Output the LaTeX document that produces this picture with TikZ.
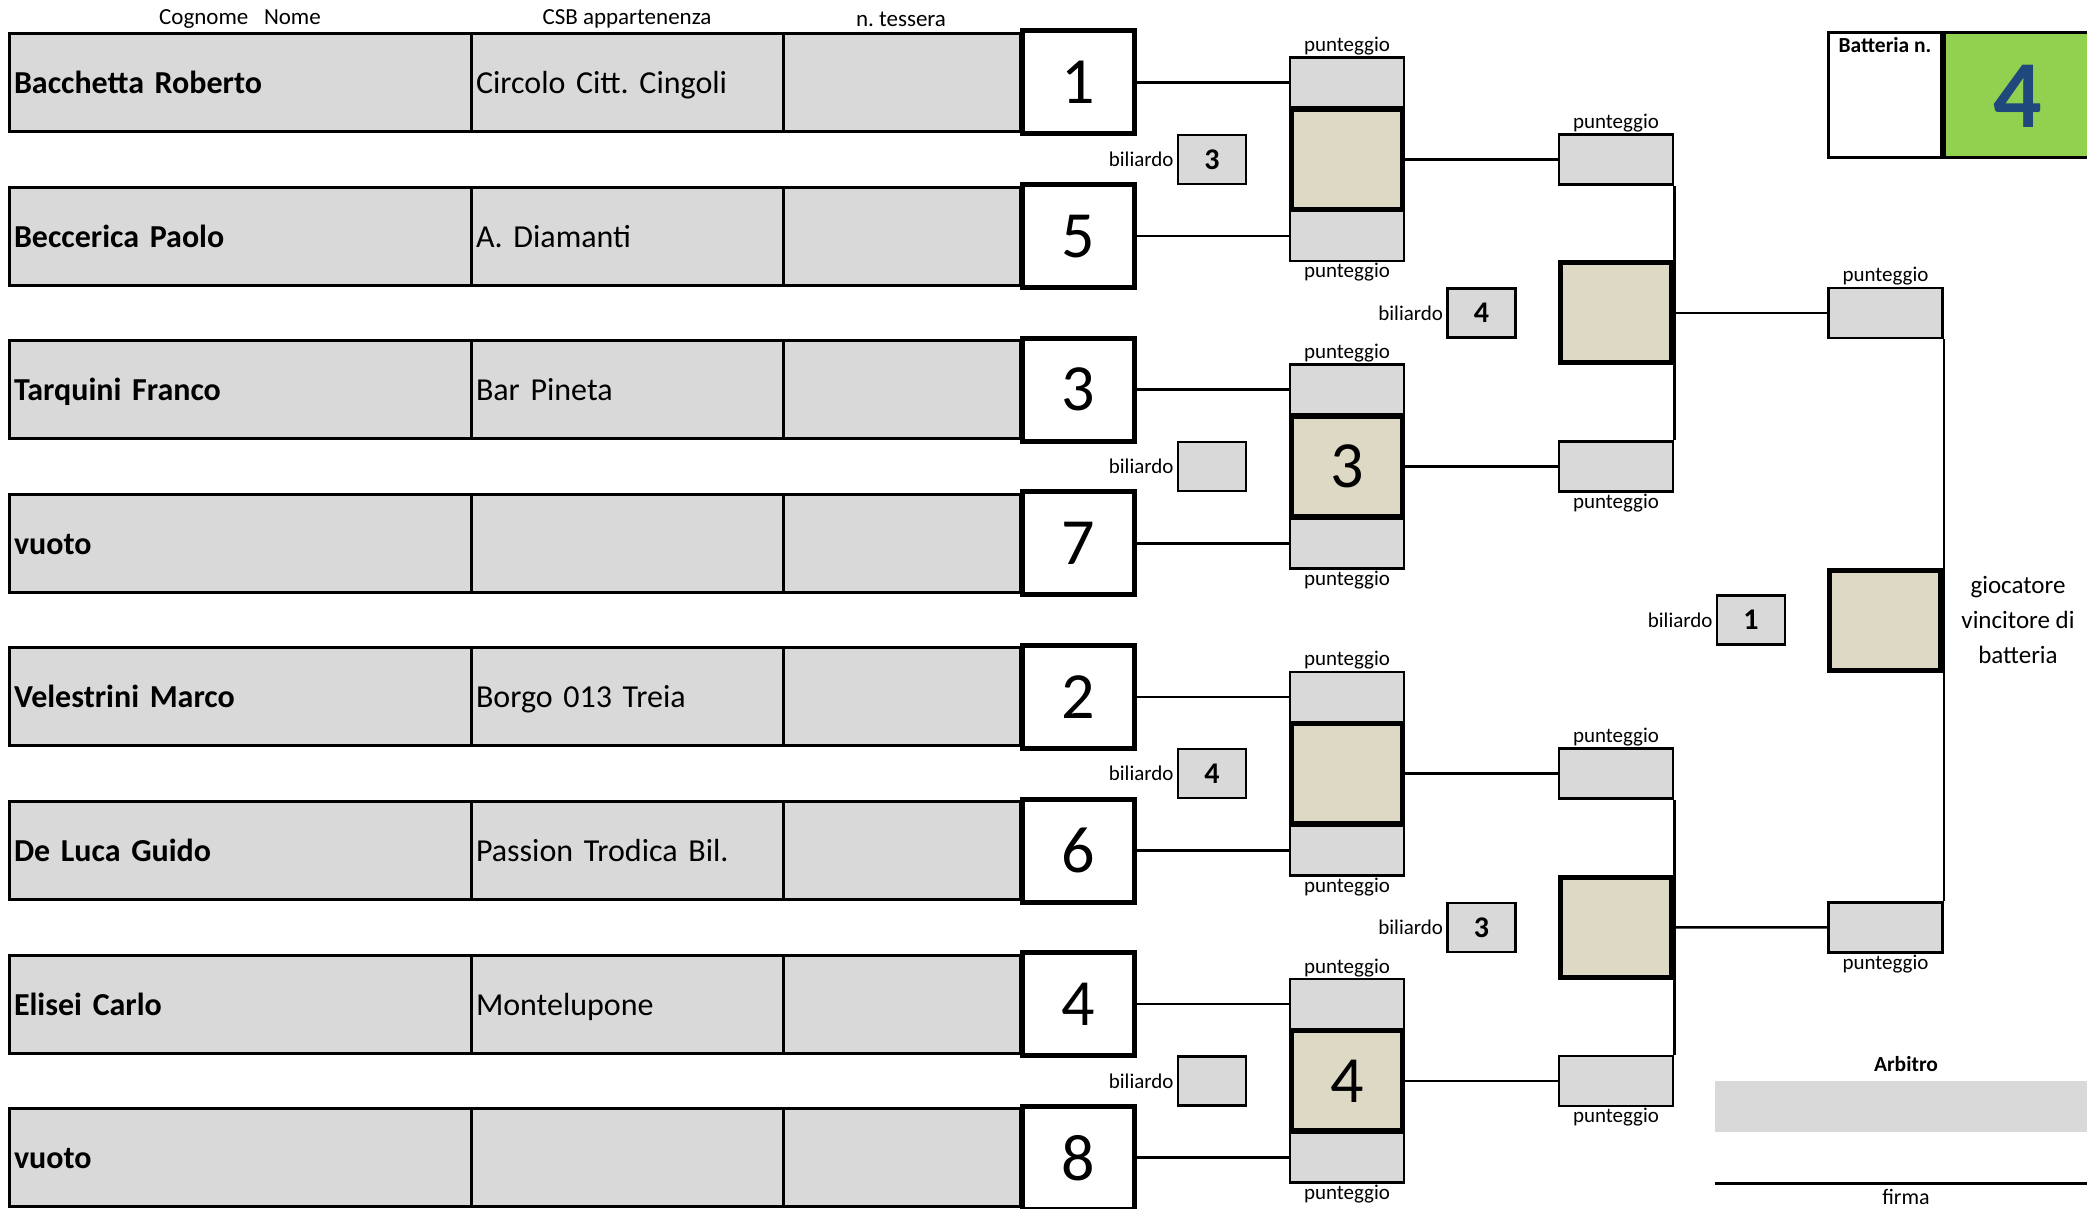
\documentclass[tikz,border=0pt]{standalone}
\usepackage{fontspec}
\setmainfont{Carlito}
\usepackage{tikz}
\usetikzlibrary{positioning}
\frenchspacing

\definecolor{grigio}{HTML}{D9D9D9}
\definecolor{beige}{HTML}{DDD9C4}
\definecolor{verde}{HTML}{92D050}
\definecolor{blu}{HTML}{1F497D}

\newcommand{\fpiccolo}{\fontsize{21}{25}\selectfont}
\newcommand{\fintest}{\fontsize{23}{27}\selectfont}
\newcommand{\fnome}{\fontsize{32}{38}\selectfont}
\newcommand{\fnumero}{\fontsize{66}{76}\selectfont}
\newcommand{\ftavolo}{\fontsize{30}{34}\selectfont\bfseries}
\newcommand{\fbatt}{\fontsize{21.5}{25}\selectfont\bfseries}
\newcommand{\ffirma}{\fontsize{22}{26}\selectfont}
\newcommand{\fgrande}{\fontsize{96}{110}\selectfont\bfseries}
\newcommand{\fvinc}{\fontsize{25}{35}\selectfont}

\tikzstyle{cella} = [draw, line width=3pt, fill=grigio, minimum height=98pt, inner xsep=5pt, inner ysep=0pt, text height=26pt, text depth=4pt, align=left, font=\fnome]
\tikzstyle{numero} = [draw, line width=5pt, fill=white, minimum width=112pt, minimum height=103pt, inner sep=0pt, font=\fnumero]
\tikzstyle{punti} = [draw, line width=2.5pt, fill=grigio, minimum width=114pt, minimum height=50pt, inner sep=0pt]
\tikzstyle{vince} = [draw, line width=5pt, fill=beige, minimum width=111pt, minimum height=100pt, inner sep=0pt, font=\fnumero]
\tikzstyle{tavolo} = [draw, line width=2.5pt, fill=grigio, minimum width=68pt, minimum height=49pt, inner sep=0pt, font=\ftavolo]
\tikzstyle{etichetta} = [font=\fpiccolo, inner sep=1pt]
\tikzstyle{linea} = [line width=2.5pt]

\begin{document}
\begin{tikzpicture}[x=1pt,y=-1pt]
	\useasboundingbox (0,0) rectangle (2087,1209);

	\node[font=\fintest] (hnome) at (240,19) {Cognome\ \ \ Nome};
	\node[font=\fintest] (hclub) at (627,19) {CSB appartenenza};
	\node[font=\fintest] (htess) at (901,19) {n. tessera};

	\foreach \i/\nome/\club/\num in {0/Bacchetta Roberto/Circolo Citt. Cingoli/1, 1/Beccerica Paolo/A. Diamanti/5, 2/Tarquini Franco/Bar Pineta/3, 3/vuoto//7, 4/Velestrini Marco/Borgo 013 Treia/2, 5/De Luca Guido/Passion Trodica Bil./6, 6/Elisei Carlo/Montelupone/4, 7/vuoto//8} {
		\node[cella, text width=452pt] (n\i) at (240,82.5+153.6*\i) {\bfseries \nome};
		\node[cella, text width=302pt] (c\i) at (627,82.5+153.6*\i) {\club};
		\node[cella, text width=227pt] (t\i) at (901.5,82.5+153.6*\i) {};
		\node[numero] (num\i) at (1078.5,82.5+153.6*\i) {\num};
	}

	% primo turno
	\foreach \j/\a/\b/\v/\bil in {0/0/1//3, 1/2/3/3/, 2/4/5//4, 3/6/7/4/} {
		\node[punti] (p1a\j) at (1347,82.5+153.6*\a) {};
		\node[punti] (p1b\j) at (1347,82.5+153.6*\b) {};
		\node[vince] (v1\j) at (1347,159.3+307.2*\j) {\v};
		\node[tavolo] (b1\j) at (1212,159.3+307.2*\j) {\bil};
		\node[etichetta, left=2pt of b1\j] (lb1\j) {biliardo};
		\node[etichetta, above=0pt of p1a\j] (lpa1\j) {punteggio};
		\node[etichetta, below=0pt of p1b\j] (lpb1\j) {punteggio};
		\draw[linea] (num\a.east) -- (p1a\j.west);
		\draw[linea] (num\b.east) -- (p1b\j.west);
	}

	% secondo turno
	\foreach \k/\a/\b/\bil in {0/0/1/4, 1/2/3/3} {
		\node[punti] (p2a\k) at (1616,159.3+307.2*\a) {};
		\node[punti] (p2b\k) at (1616,159.3+307.2*\b) {};
		\draw[linea] (p2a\k.south east) -- (p2b\k.north east);
		\node[vince] (v2\k) at (1616,312.9+614.4*\k) {};
		\node[tavolo] (b2\k) at (1481.5,312.9+614.4*\k) {\bil};
		\node[etichetta, left=2pt of b2\k] (lb2\k) {biliardo};
		\node[etichetta, above=0pt of p2a\k] (lpa2\k) {punteggio};
		\node[etichetta, below=0pt of p2b\k] (lpb2\k) {punteggio};
		\draw[linea] (v1\a.east) -- (p2a\k.west);
		\draw[linea] (v1\b.east) -- (p2b\k.west);
	}

	% finale
	\node[punti] (p3a) at (1885.5,312.9) {};
	\node[punti] (p3b) at (1885.5,927.3) {};
	\draw[linea] (p3a.south east) -- (p3b.north east);
	\node[vince] (v3) at (1885,620.1) {};
	\node[tavolo] (b3) at (1751,620.1) {1};
	\node[etichetta, left=2pt of b3] (lb3) {biliardo};
	\node[etichetta, above=0pt of p3a] (lpa3) {punteggio};
	\node[etichetta, below=0pt of p3b] (lpb3) {punteggio};
	\draw[linea] (v20.east) -- (p3a.west);
	\draw[linea] (v21.east) -- (p3b.west);
	\node[font=\fvinc, align=center] (vincitore) at (2018,620) {giocatore\\vincitore di\\batteria};

	% batteria
	\node[draw, line width=3pt, fill=white, minimum width=113pt, minimum height=125pt] (batt) at (1885,95) {};
	\node[draw, line width=3pt, fill=verde, minimum width=180pt, minimum height=125pt, anchor=west] (gruppo) at (batt.east) {};
	\node[font=\fbatt, below=3pt of batt.north] (lbatt) {Batteria n.};
	\node[font=\fgrande, text=blu] (ngruppo) at (2018,96) {4};

	% arbitro
	\node[font=\fbatt] (arbitro) at (1906,1064) {Arbitro};
	\fill[grigio] (1715,1081) rectangle (2100,1132);
	\coordinate (f1) at (1715,1183);
	\coordinate (f2) at (2100,1183);
	\draw[line width=3pt] (f1) -- (f2);
	\node[etichetta, font=\ffirma] (firma) at (1906,1197) {firma};
\end{tikzpicture}
\end{document}
